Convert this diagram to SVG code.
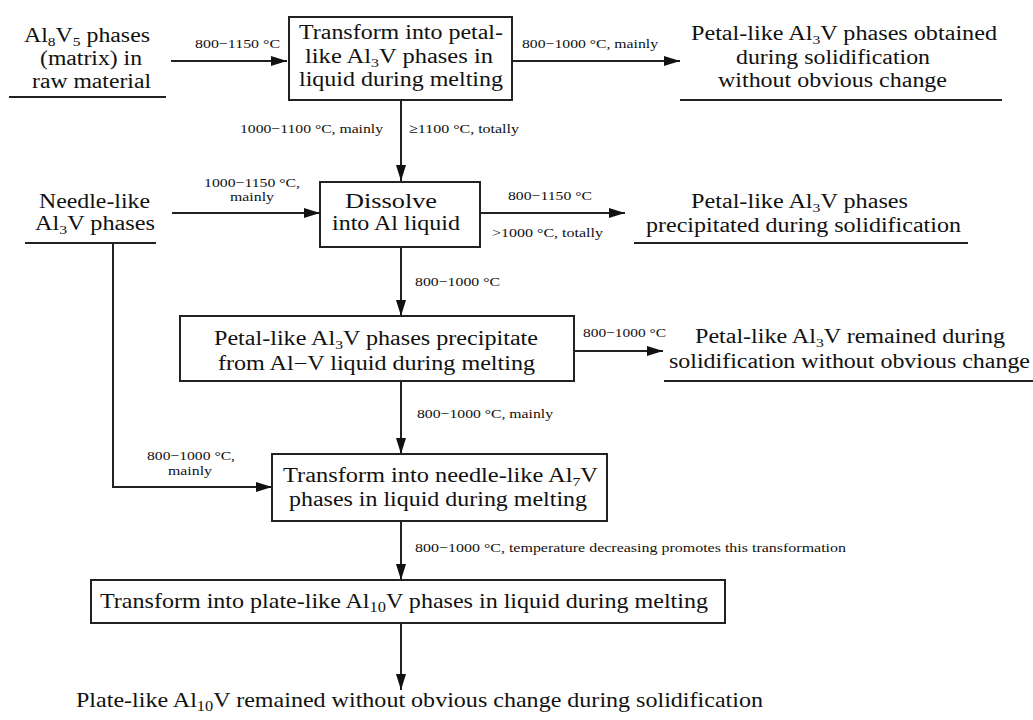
<svg xmlns="http://www.w3.org/2000/svg" width="1033" height="720" viewBox="0 0 1033 720">
<style>
.t{font-family:"Liberation Serif","Times New Roman",Times,serif;font-size:20px;fill:#111}
.b{font-family:"Liberation Serif","Times New Roman",Times,serif;font-size:22px;fill:#111}
.l{font-family:"Liberation Serif","Times New Roman",Times,serif;font-size:13.5px;fill:#111}
.s{font-size:13px}
.box{fill:#fff;stroke:#222;stroke-width:2}
.ln{fill:none;stroke:#222;stroke-width:2}
.ar{fill:none;stroke:#222;stroke-width:2;marker-end:url(#ah)}
</style>
<defs>
<marker id="ah" markerUnits="userSpaceOnUse" markerWidth="18" markerHeight="12" refX="16" refY="5" orient="auto">
<path d="M0,0 L16,5 L0,10 z" fill="#111"/>
</marker>
</defs>
<rect width="1033" height="720" fill="#fff"/>

<g id="connectors">
<path class="ar" d="M171,61 H287"/>
<path class="ar" d="M512,61 H680"/>
<path class="ar" d="M401,100 V181"/>
<path class="ar" d="M172,213 H320"/>
<path class="ar" d="M480,213 H625"/>
<path class="ar" d="M401,247 V316"/>
<path class="ar" d="M574,351 H663"/>
<path class="ar" d="M401,381 V454"/>
<path class="ar" d="M113,243 V487 H272"/>
<path class="ar" d="M401,521 V580"/>
<path class="ar" d="M401,623 V690"/>
<text class="l" x="195" y="48" textLength="85" lengthAdjust="spacingAndGlyphs">800−1150 °C</text>
<text class="l" x="522" y="48" textLength="136" lengthAdjust="spacingAndGlyphs">800−1000 °C, mainly</text>
<text class="l" x="240" y="133" textLength="143" lengthAdjust="spacingAndGlyphs">1000−1100 °C, mainly</text>
<text class="l" x="409" y="133" textLength="110" lengthAdjust="spacingAndGlyphs">≥1100 °C, totally</text>
<text class="l" x="204" y="187" textLength="96" lengthAdjust="spacingAndGlyphs">1000−1150 °C,</text>
<text class="l" x="230" y="201" textLength="44" lengthAdjust="spacingAndGlyphs">mainly</text>
<text class="l" x="508" y="200" textLength="84" lengthAdjust="spacingAndGlyphs">800−1150 °C</text>
<text class="l" x="492" y="237" textLength="111" lengthAdjust="spacingAndGlyphs">&gt;1000 °C, totally</text>
<text class="l" x="415" y="286" textLength="85" lengthAdjust="spacingAndGlyphs">800−1000 °C</text>
<text class="l" x="583" y="337" textLength="83" lengthAdjust="spacingAndGlyphs">800−1000 °C</text>
<text class="l" x="417" y="418" textLength="136" lengthAdjust="spacingAndGlyphs">800−1000 °C, mainly</text>
<text class="l" x="147" y="460" textLength="88" lengthAdjust="spacingAndGlyphs">800−1000 °C,</text>
<text class="l" x="168" y="475" textLength="44" lengthAdjust="spacingAndGlyphs">mainly</text>
<text class="l" x="415" y="552" textLength="431" lengthAdjust="spacingAndGlyphs">800−1000 °C, temperature decreasing promotes this transformation</text>
</g>

<g id="n-al8v5">
<text class="t" x="24" y="42" textLength="126" lengthAdjust="spacingAndGlyphs">Al<tspan class="s" dy="4">8</tspan><tspan dy="-4">V</tspan><tspan class="s" dy="4">5</tspan><tspan dy="-4"> phases</tspan></text>
<text class="t" x="40" y="65" textLength="102" lengthAdjust="spacingAndGlyphs">(matrix) in</text>
<text class="t" x="32" y="88" textLength="119" lengthAdjust="spacingAndGlyphs">raw material</text>
<path class="ln" d="M9,97 H166"/>
</g>

<g id="n-transform-petal">
<rect class="box" x="289" y="17" width="223" height="83"/>
<text class="t" x="299" y="39" textLength="204" lengthAdjust="spacingAndGlyphs">Transform into petal-</text>
<text class="t" x="305" y="63" textLength="188" lengthAdjust="spacingAndGlyphs">like Al<tspan class="s" dy="4">3</tspan><tspan dy="-4">V phases in</tspan></text>
<text class="t" x="299" y="86" textLength="204" lengthAdjust="spacingAndGlyphs">liquid during melting</text>
</g>

<g id="n-petal-obtained">
<text class="t" x="691" y="40" textLength="306" lengthAdjust="spacingAndGlyphs">Petal-like Al<tspan class="s" dy="4">3</tspan><tspan dy="-4">V phases obtained</tspan></text>
<text class="t" x="736" y="64" textLength="194" lengthAdjust="spacingAndGlyphs">during solidification</text>
<text class="t" x="718" y="87" textLength="229" lengthAdjust="spacingAndGlyphs">without obvious change</text>
<path class="ln" d="M680,100 H1002"/>
</g>

<g id="n-needle">
<text class="t" x="39" y="208" textLength="111" lengthAdjust="spacingAndGlyphs">Needle-like</text>
<text class="t" x="35" y="230" textLength="120" lengthAdjust="spacingAndGlyphs">Al<tspan class="s" dy="4">3</tspan><tspan dy="-4">V phases</tspan></text>
<path class="ln" d="M25,243 H156"/>
</g>

<g id="n-dissolve">
<rect class="box" x="320" y="182" width="160" height="65"/>
<text class="t" x="345" y="208" textLength="92" lengthAdjust="spacingAndGlyphs">Dissolve</text>
<text class="t" x="332" y="230" textLength="128" lengthAdjust="spacingAndGlyphs">into Al liquid</text>
</g>

<g id="n-petal-precipitated">
<text class="t" x="691" y="208" textLength="217" lengthAdjust="spacingAndGlyphs">Petal-like Al<tspan class="s" dy="4">3</tspan><tspan dy="-4">V phases</tspan></text>
<text class="t" x="646" y="232" textLength="315" lengthAdjust="spacingAndGlyphs">precipitated during solidification</text>
<path class="ln" d="M634,243 H968"/>
</g>

<g id="n-petal-precipitate-melting">
<rect class="box" x="180" y="316" width="394" height="65"/>
<text class="t" x="214" y="345" textLength="324" lengthAdjust="spacingAndGlyphs">Petal-like Al<tspan class="s" dy="4">3</tspan><tspan dy="-4">V phases precipitate</tspan></text>
<text class="t" x="218" y="370" textLength="317" lengthAdjust="spacingAndGlyphs">from Al−V liquid during melting</text>
</g>

<g id="n-petal-remained">
<text class="t" x="695" y="343" textLength="310" lengthAdjust="spacingAndGlyphs">Petal-like Al<tspan class="s" dy="4">3</tspan><tspan dy="-4">V remained during</tspan></text>
<text class="t" x="669" y="368" textLength="361" lengthAdjust="spacingAndGlyphs">solidification without obvious change</text>
<path class="ln" d="M664,381 H1033"/>
</g>

<g id="n-needle-al7v">
<rect class="box" x="272" y="454" width="335" height="67"/>
<text class="t" x="283" y="482" textLength="315" lengthAdjust="spacingAndGlyphs">Transform into needle-like Al<tspan class="s" dy="4">7</tspan><tspan dy="-4">V</tspan></text>
<text class="t" x="289" y="506" textLength="298" lengthAdjust="spacingAndGlyphs">phases in liquid during melting</text>
</g>

<g id="n-plate-al10v">
<rect class="box" x="91" y="580" width="634" height="43"/>
<text class="b" x="100" y="608" textLength="608" lengthAdjust="spacingAndGlyphs">Transform into plate-like Al<tspan font-size="15" dy="4">10</tspan><tspan dy="-4">V phases in liquid during melting</tspan></text>
</g>

<g id="n-plate-remained">
<text class="b" x="76" y="707" textLength="687" lengthAdjust="spacingAndGlyphs">Plate-like Al<tspan font-size="15" dy="4">10</tspan><tspan dy="-4">V remained without obvious change during solidification</tspan></text>
</g>
</svg>
